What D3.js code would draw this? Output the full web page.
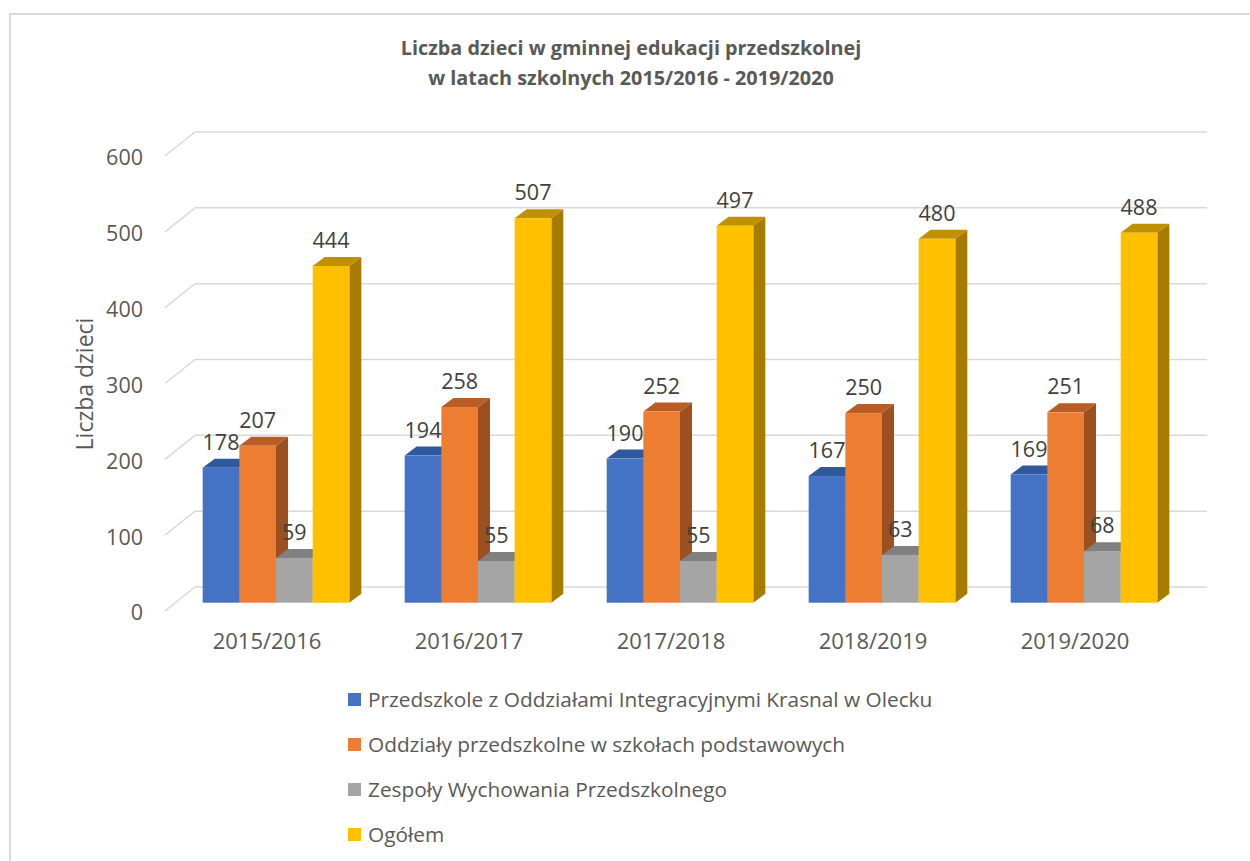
<!DOCTYPE html>
<html>
<head>
<meta charset="utf-8">
<script src="https://cdn.jsdelivr.net/npm/d3@7"></script>
<style>
  body { margin: 0; background: #fff; }
  svg { display: block; font-family: "Open Sans", sans-serif; }
</style>
</head>
<body>
<svg id="chart"></svg>
<script>
const categories = ['2015/2016', '2016/2017', '2017/2018', '2018/2019', '2019/2020'];
const seriesNames = [
  'Przedszkole z Oddziałami Integracyjnymi Krasnal w Olecku',
  'Oddziały przedszkolne w szkołach podstawowych',
  'Zespoły Wychowania Przedszkolnego',
  'Ogółem'
];
const przedszkole = [178, 194, 190, 167, 169];
const oddzialy = [207, 258, 252, 250, 251];
const zespoly = [59, 55, 55, 63, 68];
const ogolem = [444, 507, 497, 480, 488];
const yTicks = [0, 100, 200, 300, 400, 500, 600];

const series = [przedszkole, oddzialy, zespoly, ogolem];
const front = ['#4472c4', '#ed7d31', '#a5a5a5', '#ffc000'];
const topC = ['#30589f', '#b95d27', '#808080', '#bf9000'];
const sideC = ['#2a4d8c', '#9c4f1f', '#6f6f6f', '#a67c00'];

const W = 1250, H = 861;
const svg = d3.select('#chart').attr('width', W).attr('height', H);

// chart frame
svg.append('rect')
  .attr('x', 10).attr('y', 14).attr('width', 1300).attr('height', 900)
  .style('fill', 'none').style('stroke', '#d9d9d9').style('stroke-width', 2);

// title
const title = svg.append('text')
  .attr('text-anchor', 'middle')
  .style('font-size', '19.8px').style('font-weight', 'bold').style('fill', '#595959');
title.append('tspan').attr('x', 631).attr('y', 55).text('Liczba dzieci w gminnej edukacji przedszkolnej');
title.append('tspan').attr('x', 631).attr('y', 85).text('w latach szkolnych 2015/2016 - 2019/2020');

// y scale on the back wall, other planes are shifted from it
const yBack = d3.scaleLinear().domain([0, 600]).range([587, 132]);
const wallX0 = 195, wallX1 = 1207;
const sideDx = -30, sideDy = 24;      // back wall -> axis plane
const barShiftX = 0, barShiftY = 15.7; // back wall -> bar front plane
const depthX = 12, depthY = -9;       // bar depth

const grid = svg.append('g')
  .style('stroke', '#d9d9d9').style('stroke-width', 1.5).style('fill', 'none');
yTicks.forEach(function (t) {
  const y = yBack(t);
  grid.append('path').attr('d',
    'M' + (wallX0 + sideDx) + ',' + (y + sideDy) + 'L' + wallX0 + ',' + y + 'L' + wallX1 + ',' + y);
});

// y axis labels (front plane)
const yFront = d3.scaleLinear().domain([0, 600]).range([587 + sideDy + 2, 132 + sideDy + 2]);
const yAxis = svg.append('g')
  .attr('transform', 'translate(143,0)')
  .call(d3.axisLeft(yFront).tickValues(yTicks).tickSize(0).tickPadding(0));
yAxis.select('.domain').remove();
yAxis.selectAll('text')
  .style('font-family', '"Open Sans", sans-serif')
  .style('font-size', '21.5px').style('fill', '#595959');

svg.append('text')
  .attr('transform', 'translate(93,384) rotate(-90)')
  .attr('text-anchor', 'middle')
  .style('font-size', '23px').style('fill', '#595959')
  .text('Liczba dzieci');

// bars
const x0 = d3.scaleBand().domain(categories).range([175, 1185]).paddingInner(0.274).paddingOuter(0.137);
const x1 = d3.scaleBand().domain(d3.range(series.length)).range([0, x0.bandwidth()]);
const yBar = function (v) { return yBack(v) + barShiftY; };
const base = yBar(0);

const bars = svg.append('g');
categories.forEach(function (c, i) {
  series.forEach(function (s, k) {
    const v = s[i];
    const xl = x0(c) + x1(k) + barShiftX, xr = xl + x1.bandwidth();
    const yt = yBar(v);
    const g = bars.append('g');
    g.append('path')
      .attr('d', 'M' + xr + ',' + base + 'L' + (xr + depthX) + ',' + (base + depthY) +
        'L' + (xr + depthX) + ',' + (yt + depthY) + 'L' + xr + ',' + yt + 'Z')
      .style('fill', sideC[k]);
    g.append('path')
      .attr('d', 'M' + xl + ',' + yt + 'L' + (xl + depthX) + ',' + (yt + depthY) +
        'L' + (xr + depthX) + ',' + (yt + depthY) + 'L' + xr + ',' + yt + 'Z')
      .style('fill', topC[k]);
    g.append('rect')
      .attr('x', xl).attr('y', yt).attr('width', x1.bandwidth()).attr('height', base - yt)
      .style('fill', front[k]);
  });
});

// value labels
const labels = svg.append('g')
  .attr('text-anchor', 'middle')
  .style('font-size', '21.5px').style('fill', '#404040');
categories.forEach(function (c, i) {
  series.forEach(function (s, k) {
    labels.append('text')
      .attr('x', x0(c) + x1(k) + x1.bandwidth() / 2)
      .attr('y', yBar(s[i]) - 18)
      .text(s[i]);
  });
});

// category labels
const catAxis = svg.append('g');
categories.forEach(function (c) {
  catAxis.append('text')
    .attr('x', x0(c) + x0.bandwidth() / 2 - 9)
    .attr('y', 649)
    .attr('text-anchor', 'middle')
    .style('font-size', '22px').style('fill', '#595959')
    .text(c);
});

// legend
const legend = svg.append('g').attr('transform', 'translate(348,0)');
const legendY = [700, 745, 790, 835];
seriesNames.forEach(function (n, k) {
  legend.append('rect')
    .attr('x', 0).attr('y', legendY[k] - 7).attr('width', 13).attr('height', 13)
    .style('fill', front[k]);
  legend.append('text')
    .attr('x', 20).attr('y', legendY[k]).attr('dy', '0.35em')
    .style('font-size', '20.8px').style('fill', '#595959')
    .text(n);
});
</script>
</body>
</html>
